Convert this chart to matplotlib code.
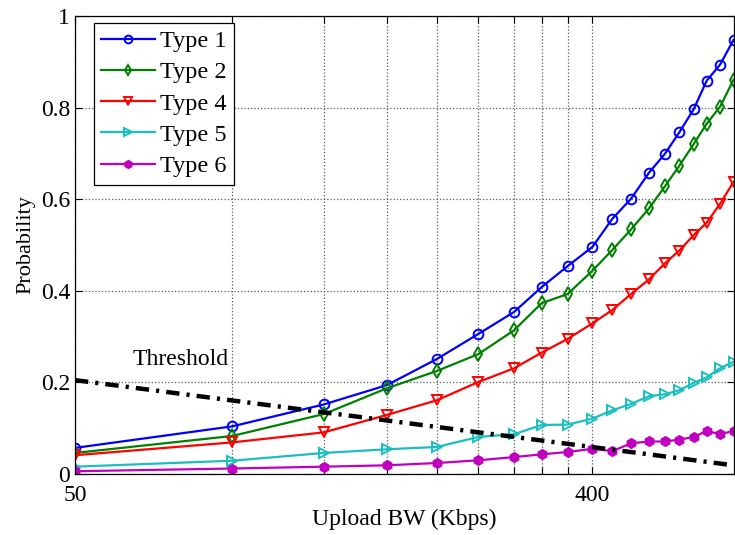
import matplotlib
matplotlib.use('Agg')
import matplotlib.pyplot as plt
from matplotlib.ticker import FixedLocator, FixedFormatter, NullLocator

plt.rcParams['font.family'] = ['Liberation Serif', 'DejaVu Serif']
plt.rcParams['mathtext.fontset'] = 'stix'

# upload bandwidth (Kbps)
bw = [50, 94, 136, 175, 214, 253, 292, 326, 362, 400,
      433, 467, 502, 535, 567, 601, 633, 668, 705]

type1 = [0.057, 0.104, 0.152, 0.194, 0.251, 0.306, 0.354, 0.408, 0.454, 0.496,
         0.557, 0.601, 0.658, 0.699, 0.746, 0.797, 0.859, 0.894, 0.948]
type2 = [0.046, 0.083, 0.131, 0.187, 0.225, 0.262, 0.314, 0.373, 0.393, 0.444,
         0.489, 0.534, 0.580, 0.628, 0.673, 0.721, 0.765, 0.802, 0.861]
type4 = [0.041, 0.069, 0.091, 0.129, 0.161, 0.201, 0.231, 0.265, 0.295, 0.329,
         0.358, 0.393, 0.425, 0.460, 0.488, 0.522, 0.549, 0.590, 0.638]
type5 = [0.016, 0.029, 0.046, 0.054, 0.059, 0.081, 0.087, 0.107, 0.108, 0.121,
         0.139, 0.153, 0.170, 0.174, 0.183, 0.199, 0.211, 0.231, 0.245]
type6 = [0.006, 0.012, 0.016, 0.019, 0.024, 0.030, 0.037, 0.043, 0.048, 0.055,
         0.050, 0.067, 0.071, 0.071, 0.075, 0.081, 0.094, 0.087, 0.094]

thr_bw = [50, 705]
thr_val = [0.205, 0.019]

grid_bw = bw[:10]
x_labels = ['50', '', '', '', '', '', '', '', '', '400']
y_ticks = [0, 0.2, 0.4, 0.6, 0.8, 1.0]
y_labels = ['0', '0.2', '0.4', '0.6', '0.8', '1']

fig = plt.figure(figsize=(7.35, 5.35), dpi=100)
ax = fig.add_axes([0.102, 0.114, 0.896, 0.856])

series = [
    ('Type 1', type1, (0, 0, 1), 'o', 'none'),
    ('Type 2', type2, (0, 0.5, 0), 'd', 'none'),
    ('Type 4', type4, (1, 0, 0), 'v', 'none'),
    ('Type 5', type5, (0.1, 0.75, 0.75), '>', 'none'),
    ('Type 6', type6, (0.75, 0, 0.75), 'h', None),
]
for name, vals, col, mk, fc in series:
    kw = dict(color=col, lw=1.6, marker=mk, ms=7, mew=1.4, label=name)
    if fc == 'none':
        kw['mfc'] = 'none'
    else:
        kw['ms'] = 6.5
    ax.plot(bw, vals, **kw)

ax.plot(thr_bw, thr_val, color='black', lw=3.2, dashes=[3, 1.6, 0.7, 1.6])
ax.text(63, 0.249, 'Threshold', fontsize=17, ha='left', va='center')

ax.set_xscale('log')
ax.set_xlim(50, 705)
ax.set_ylim(0, 1)
ax.xaxis.set_major_locator(FixedLocator(grid_bw))
ax.xaxis.set_major_formatter(FixedFormatter(x_labels))
ax.xaxis.set_minor_locator(NullLocator())
ax.set_yticks(y_ticks)
ax.set_yticklabels(y_labels)
ax.tick_params(direction='in', top=True, right=True, labelsize=17, length=5, width=0.8)
ax.tick_params(axis='x', pad=8)
ax.grid(True, linestyle=':', color='0.35', lw=0.9)
for s in ax.spines.values():
    s.set_linewidth(0.9)

ax.set_xlabel('Upload BW (Kbps)', fontsize=17, labelpad=2)
ax.set_ylabel('Probability', fontsize=16, labelpad=4)

leg = ax.legend(loc='upper left', bbox_to_anchor=(0.029, 0.985), borderaxespad=0,
                fontsize=17.5, fancybox=False, edgecolor='black', framealpha=1,
                handlelength=2.2, handletextpad=0.2, labelspacing=0.38,
                borderpad=0.3, markerscale=0.8)
leg.get_frame().set_linewidth(0.9)

fig.savefig('out.png', dpi=100)
